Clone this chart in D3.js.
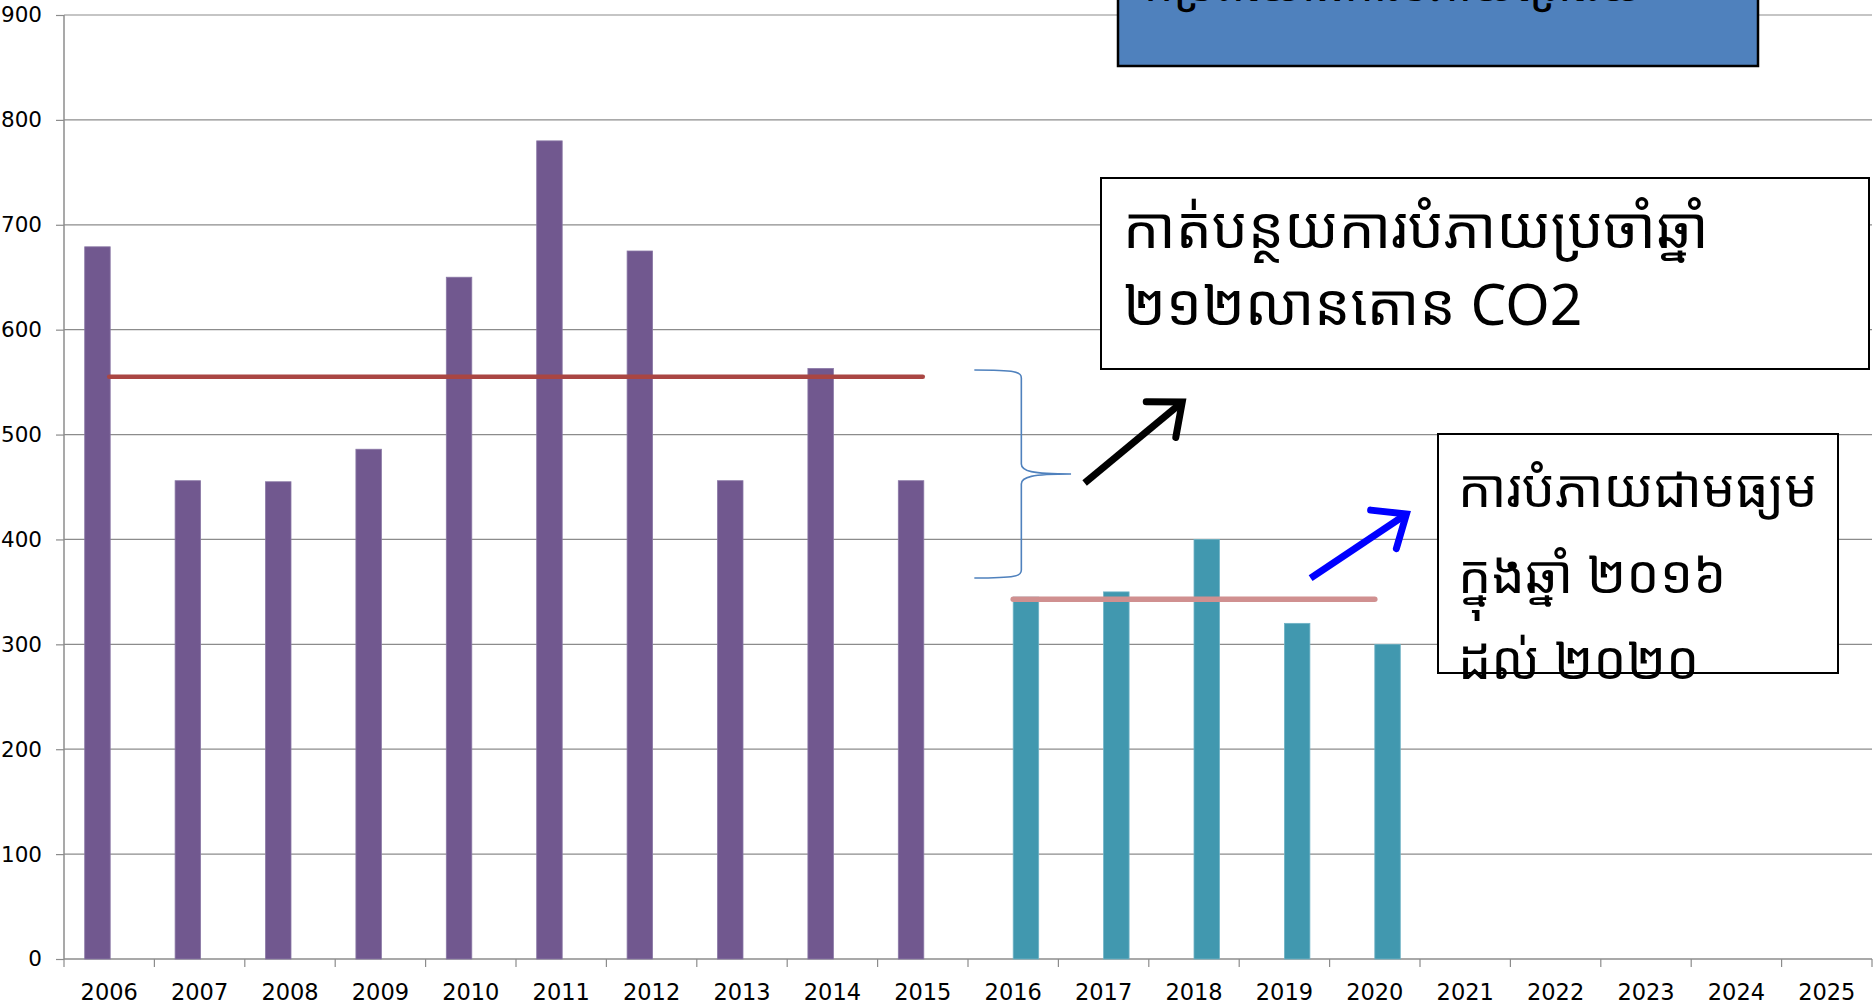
<!DOCTYPE html>
<html>
<head>
<meta charset="utf-8">
<script src="https://cdn.jsdelivr.net/npm/d3@7"></script>
<style>
  html, body { margin: 0; padding: 0; background: #fff; }
  svg { display: block; }
</style>
</head>
<body>
<svg id="chart" width="1874" height="1004"></svg>
<script>
// ---- data ----
const years = ["2006","2007","2008","2009","2010","2011","2012","2013","2014","2015",
               "2016","2017","2018","2019","2020","2021","2022","2023","2024","2025"];
const historicYears = ["2006","2007","2008","2009","2010","2011","2012","2013","2014","2015"];
const historicValues = [679, 456, 455, 486, 650, 780, 675, 456, 563, 456];
const recentYears = ["2016","2017","2018","2019","2020"];
const recentValues = [345, 350, 400, 320, 300];
const historicAverage = [555, 555, 555, 555, 555, 555, 555, 555, 555, 555];
const recentAverage = [343, 343, 343, 343, 343];
const yTicks = [0, 100, 200, 300, 400, 500, 600, 700, 800, 900];

const titleText = "កម្រិតយោងការបំភាយព្រៃឈើ";
const box1Lines = ["កាត់បន្ថយការបំភាយប្រចាំឆ្នាំ", "២១២លានតោន CO2"];
const box2Lines = ["ការបំភាយជាមធ្យម", "ក្នុងឆ្នាំ ២០១៦", "ដល់ ២០២០"];

(function () {
// ---- layout ----
const W = 1874, H = 1004;
const mLeft = 64, mRight = 1872, mTop = 15, mBottom = 959;
const svg = d3.select("#chart");
svg.append("rect").attr("width", W).attr("height", H).attr("fill", "#fff");

const x = d3.scaleBand().domain(years).range([mLeft, mRight]).padding(0);
const y = d3.scaleLinear().domain([0, 900]).range([mBottom, mTop]);
const step = x.bandwidth();
const barW = step * 0.282;
const xc = yr => x(yr) + step / 2;
// continuous year position (for annotations)
const xt = t => mLeft + (t - 2006 + 0.5) * step;

const axisFont = "'DejaVu Sans', sans-serif";
const khmerFont = "'Khmer OS', 'Noto Sans Khmer', 'Khmer OS System', 'Noto Sans', sans-serif";

// gridlines
svg.append("g").selectAll("line").data(yTicks.filter(d => d > 0)).join("line")
  .attr("x1", mLeft).attr("x2", mRight)
  .attr("y1", d => y(d)).attr("y2", d => y(d))
  .attr("stroke", "#8c8c8c").attr("stroke-width", 1.2);

// y axis
const yAxis = d3.axisLeft(y).tickValues(yTicks).tickSize(8).tickPadding(14).tickFormat(d3.format("d"));
const gy = svg.append("g").attr("transform", `translate(${mLeft},0)`).call(yAxis);
gy.select(".domain").attr("stroke", "#8c8c8c").attr("stroke-width", 1.5).attr("d", `M0,${mTop}V${mBottom}`);
gy.selectAll(".tick line").attr("stroke", "#8c8c8c").attr("stroke-width", 1.2);
gy.selectAll(".tick text").attr("font-family", axisFont).attr("font-size", 21.5).attr("fill", "#000");

// x axis
const xAxis = d3.axisBottom(x).tickValues(years).tickSize(0).tickPadding(0);
const gx = svg.append("g").attr("transform", `translate(0,${mBottom})`).call(xAxis);
gx.select(".domain").attr("stroke", "#8c8c8c").attr("stroke-width", 1.5).attr("d", `M${mLeft},0H${mRight}`);
gx.selectAll(".tick text").attr("font-family", axisFont).attr("font-size", 22.5).attr("fill", "#000")
  .attr("dy", null).attr("y", 41);
// category boundary ticks
svg.append("g").selectAll("line").data(years.concat(["end"])).join("line")
  .attr("x1", (d, i) => mLeft + i * step).attr("x2", (d, i) => mLeft + i * step)
  .attr("y1", mBottom).attr("y2", mBottom + 8)
  .attr("stroke", "#8c8c8c").attr("stroke-width", 1.2);

// bars
svg.append("g").selectAll("rect").data(historicYears.map((yr, i) => ({yr, v: historicValues[i]}))).join("rect")
  .attr("x", d => xc(d.yr) - barW + 1).attr("width", barW)
  .attr("y", d => y(d.v)).attr("height", d => y(0) - y(d.v))
  .attr("fill", "#71588F").attr("stroke", "#8a78a6").attr("stroke-width", 0.8);
svg.append("g").selectAll("rect").data(recentYears.map((yr, i) => ({yr, v: recentValues[i]}))).join("rect")
  .attr("x", d => xc(d.yr)).attr("width", barW)
  .attr("y", d => y(d.v)).attr("height", d => y(0) - y(d.v))
  .attr("fill", "#4198AF").attr("stroke", "#6fb3c6").attr("stroke-width", 0.8);

// average lines
const line = d3.line().x(d => xc(d.yr)).y(d => y(d.v));
svg.append("path").datum(historicYears.map((yr, i) => ({yr, v: historicAverage[i]})))
  .attr("d", line).attr("fill", "none").attr("stroke", "#AA4643").attr("stroke-width", 4.5).attr("stroke-linecap", "round");
svg.append("path").datum(recentYears.map((yr, i) => ({yr, v: recentAverage[i]})))
  .attr("d", line).attr("fill", "none").attr("stroke", "#D09090").attr("stroke-width", 5.5).attr("stroke-linecap", "round");

// brace
{
  const xEnd = xt(2015.57), xMid = xt(2016.09), xTip = xt(2016.64);
  const yTop = y(561.5), yTipV = y(462.4), yBot = y(363.2);
  const p = d3.path();
  p.moveTo(xEnd, yTop);
  p.bezierCurveTo(xMid - 5, yTop, xMid, yTop + 2, xMid, yTop + 8);
  p.lineTo(xMid, yTipV - 10);
  p.bezierCurveTo(xMid, yTipV - 3, xMid + 10, yTipV, xTip, yTipV);
  p.moveTo(xTip, yTipV);
  p.bezierCurveTo(xMid + 10, yTipV, xMid, yTipV + 3, xMid, yTipV + 10);
  p.lineTo(xMid, yBot - 8);
  p.bezierCurveTo(xMid, yBot - 2, xMid - 5, yBot, xEnd, yBot);
  svg.append("path").attr("d", p.toString()).attr("fill", "none").attr("stroke", "#4F81BD").attr("stroke-width", 1.6);
}

// arrows
function arrow(t0, v0, t1, v1, color) {
  const x0 = xt(t0), y0 = y(v0), x1 = xt(t1), y1 = y(v1);
  const ang = Math.atan2(y1 - y0, x1 - x0);
  const L = 36, spread = Math.PI / 4.5;
  const a1 = [x1 - L * Math.cos(ang - spread), y1 - L * Math.sin(ang - spread)];
  const a2 = [x1 - L * Math.cos(ang + spread), y1 - L * Math.sin(ang + spread)];
  const g = svg.append("g");
  g.append("line").attr("x1", x0).attr("y1", y0).attr("x2", x1 - 3 * Math.cos(ang)).attr("y2", y1 - 3 * Math.sin(ang))
    .attr("stroke", color).attr("stroke-width", 7);
  g.append("path").attr("d", `M${a1[0]},${a1[1]}L${x1},${y1}L${a2[0]},${a2[1]}`)
    .attr("fill", "none").attr("stroke", color).attr("stroke-width", 7)
    .attr("stroke-linejoin", "miter").attr("stroke-linecap", "round");
}
arrow(2016.79, 453.8, 2017.87, 531.0, "#000");
arrow(2019.29, 363.2, 2020.35, 424.2, "#0000FF");

// title box (clipped at top)
svg.append("rect").attr("x", 1118).attr("y", -10).attr("width", 640).attr("height", 76)
  .attr("fill", "#4F81BD").attr("stroke", "#000").attr("stroke-width", 2.5);
svg.append("text").attr("x", 1144).attr("y", 1).attr("font-family", khmerFont).attr("font-size", 46)
  .attr("fill", "#000").text(titleText);

// annotation box 1
svg.append("rect").attr("x", 1101).attr("y", 178).attr("width", 768).attr("height", 191)
  .attr("fill", "#fff").attr("stroke", "#000").attr("stroke-width", 2);
svg.append("g").selectAll("text").data(box1Lines).join("text")
  .attr("x", 1123).attr("y", (d, i) => 248 + i * 77)
  .attr("font-family", khmerFont).attr("font-size", 57).attr("fill", "#000").text(d => d);

// annotation box 2
svg.append("rect").attr("x", 1438).attr("y", 434).attr("width", 400).attr("height", 239)
  .attr("fill", "#fff").attr("stroke", "#000").attr("stroke-width", 2);
svg.append("g").selectAll("text").data(box2Lines).join("text")
  .attr("x", 1458).attr("y", (d, i) => 507 + i * 86)
  .attr("font-family", khmerFont).attr("font-size", 52.5).attr("fill", "#000").text(d => d);
})();
</script>
</body>
</html>
